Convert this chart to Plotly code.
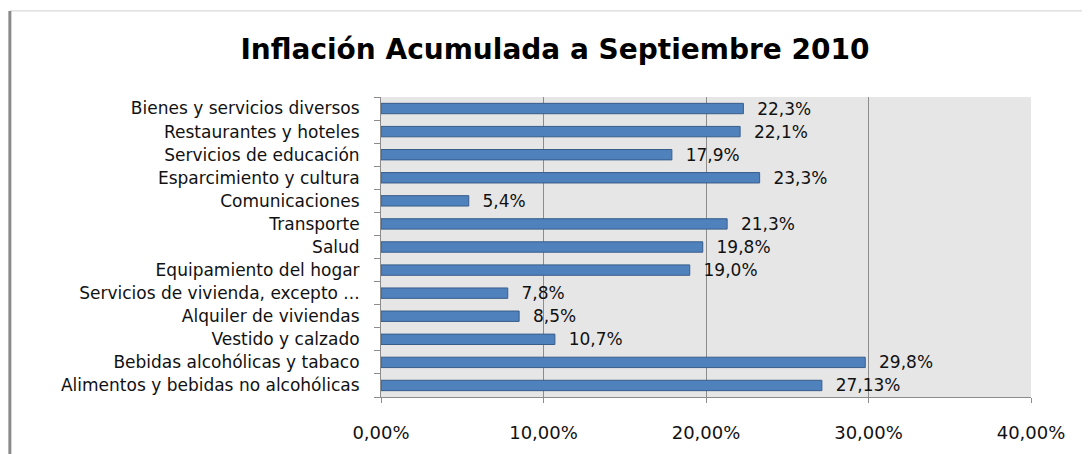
import plotly.graph_objects as go

categories = [
    "Alimentos y bebidas no alcohólicas",
    "Bebidas alcohólicas y tabaco",
    "Vestido y calzado",
    "Alquiler de viviendas",
    "Servicios de vivienda, excepto ...",
    "Equipamiento del hogar",
    "Salud",
    "Transporte",
    "Comunicaciones",
    "Esparcimiento y cultura",
    "Servicios de educación",
    "Restaurantes y hoteles",
    "Bienes y servicios diversos",
]
values = [27.13, 29.8, 10.7, 8.5, 7.8, 19.0, 19.8, 21.3, 5.4, 23.3, 17.9, 22.1, 22.3]
value_labels = ["27,13%", "29,8%", "10,7%", "8,5%", "7,8%", "19,0%", "19,8%",
                "21,3%", "5,4%", "23,3%", "17,9%", "22,1%", "22,3%"]
x_ticks = [0, 10, 20, 30, 40]
x_tick_labels = ["0,00%", "10,00%", "20,00%", "30,00%", "40,00%"]

font_family = "DejaVu Sans, Verdana, sans-serif"

fig = go.Figure(
    go.Bar(
        y=categories,
        x=values,
        orientation="h",
        text=value_labels,
        texttemplate="\u00a0\u00a0%{text}",
        textposition="outside",
        constraintext="none",
        cliponaxis=False,
        textfont=dict(size=17, color="#111111", family=font_family),
        marker=dict(color="#4f81bd", line=dict(color="#385d8a", width=1)),
        width=0.45,
    )
)

fig.update_layout(
    width=1082,
    height=446,
    margin=dict(l=373, r=59, t=89, b=57),
    paper_bgcolor="white",
    plot_bgcolor="#e6e6e6",
    showlegend=False,
    title=dict(
        text="<b>Inflación Acumulada a Septiembre 2010</b>",
        x=0.5055,
        xanchor="center",
        y=0.908,
        yanchor="middle",
        font=dict(size=28, color="#000000", family=font_family),
    ),
    xaxis=dict(
        range=[0, 40],
        tickvals=x_ticks,
        ticktext=x_tick_labels,
        showgrid=True,
        gridcolor="#8c8c8c",
        gridwidth=1,
        zeroline=False,
        showline=True,
        linecolor="#8c8c8c",
        ticks="outside",
        ticklen=5,
        tickcolor="#8c8c8c",
        ticklabelstandoff=14,
        tickfont=dict(size=18, color="#111111", family=font_family),
    ),
    yaxis=dict(
        showgrid=False,
        zeroline=False,
        showline=True,
        linecolor="#8c8c8c",
        ticks="outside",
        ticklen=6,
        tickcolor="#8c8c8c",
        tickson="boundaries",
        ticklabelstandoff=17,
        tickfont=dict(size=17, color="#111111", family=font_family),
    ),
    shapes=[
        dict(type="line", xref="paper", yref="paper", x0=-0.571, x1=1.09,
             y0=1.287, y1=1.287, line=dict(color="#d0d0d0", width=1)),
        dict(type="line", xref="paper", yref="paper", x0=-0.571, x1=-0.571,
             y0=1.287, y1=-0.2, line=dict(color="#8a8a8a", width=3)),
    ],
)

fig.write_html("out.html")
